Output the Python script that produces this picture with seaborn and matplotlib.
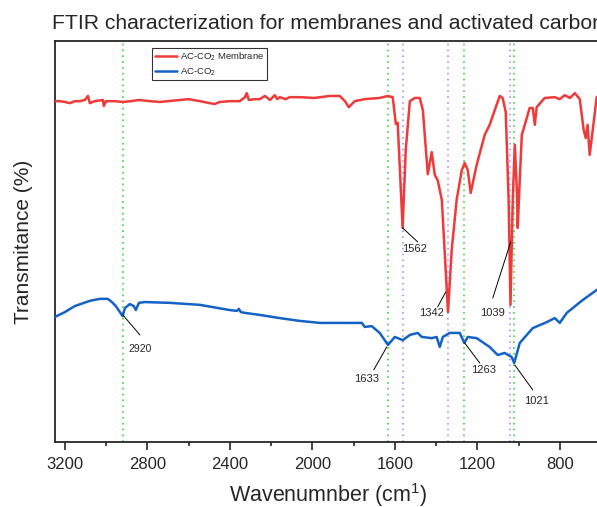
import numpy as np
import pandas as pd
import matplotlib
matplotlib.use("Agg")
import matplotlib.pyplot as plt
import seaborn as sns
from matplotlib.ticker import MultipleLocator

# --------------------------
# DATA
# --------------------------
membrane_wn = [3248, 3224, 3200, 3176, 3152, 3127, 3103, 3088, 3079, 3055, 3016, 3011,
               3001, 2958, 2920, 2880, 2840, 2788, 2740, 2700, 2642, 2600, 2545, 2497,
               2473, 2449, 2400, 2352, 2327, 2318, 2308, 2280, 2255, 2230, 2205, 2182,
               2170, 2158, 2130, 2109, 2061, 1990, 1915, 1867, 1842, 1823, 1794, 1746,
               1673, 1634, 1610, 1595, 1586, 1562, 1547, 1527, 1503, 1479, 1464, 1440,
               1421, 1406, 1392, 1372, 1342, 1324, 1300, 1275, 1261, 1246, 1232, 1203,
               1164, 1140, 1115, 1091, 1077, 1062, 1048, 1039, 1028, 1018, 1008, 1004,
               994, 984, 960, 946, 931, 921, 912, 873, 824, 800, 776, 750, 727, 703,
               684, 674, 665, 655, 640, 621, 606]
membrane_t = [85.0, 85.0, 84.8, 84.5, 85.0, 85.0, 85.3, 86.3, 84.5, 85.0, 85.3, 83.8,
              85.0, 85.0, 84.8, 85.0, 85.3, 85.0, 84.8, 85.0, 85.3, 85.5, 85.0, 84.5,
              84.3, 84.8, 85.0, 85.0, 86.0, 87.0, 85.3, 85.5, 85.5, 86.3, 85.3, 86.5,
              85.5, 86.0, 85.5, 86.0, 86.0, 85.8, 86.3, 86.3, 85.0, 83.5, 85.0, 85.5,
              85.8, 86.3, 86.0, 79.3, 79.6, 53.4, 72.8, 85.0, 85.8, 85.8, 82.8, 66.8,
              72.3, 66.6, 65.3, 60.4, 32.4, 47.9, 60.4, 67.8, 69.6, 67.8, 62.1, 69.1,
              76.6, 79.1, 82.8, 86.3, 85.8, 82.3, 60.4, 34.2, 60.4, 74.1, 62.8, 53.4,
              65.3, 76.6, 80.8, 83.3, 83.3, 79.1, 83.5, 85.8, 86.0, 85.5, 86.5, 85.8,
              87.0, 85.5, 77.8, 75.8, 79.1, 71.6, 77.8, 86.0, 86.5]

carbon_wn = [3248, 3200, 3152, 3079, 3030, 2992, 2972, 2953, 2920, 2909, 2885, 2866,
             2856, 2841, 2812, 2691, 2545, 2400, 2366, 2356, 2347, 2327, 2255, 2158,
             2061, 1964, 1760, 1746, 1712, 1673, 1633, 1600, 1561, 1527, 1489, 1469,
             1421, 1397, 1382, 1367, 1334, 1285, 1263, 1246, 1203, 1140, 1101, 1067,
             1033, 1021, 994, 931, 863, 824, 800, 766, 689, 621, 606]
carbon_t = [31.2, 32.4, 33.9, 35.2, 35.7, 35.7, 34.9, 33.9, 31.4, 33.4, 34.4, 33.9,
            32.9, 34.7, 34.9, 34.7, 34.2, 32.9, 32.7, 33.2, 32.4, 32.2, 31.7, 30.9,
            30.2, 29.7, 29.7, 28.7, 28.9, 27.2, 24.2, 26.2, 25.4, 26.7, 27.2, 26.2,
            25.9, 26.2, 23.7, 26.2, 27.2, 27.2, 24.7, 26.2, 25.9, 23.7, 21.7, 22.2,
            21.2, 19.7, 24.7, 28.4, 29.9, 30.9, 29.7, 32.2, 35.4, 37.9, 38.4]

series_names = ["AC-CO$_2$ Membrane", "AC-CO$_2$"]
series_colors = ["#EF3A3A", "#1462C6"]

green_marks = [2920, 1633, 1263, 1021]
purple_marks = [1562, 1342, 1039]

# label, peak (wn, T), leader end (wn, T), text centre (wn, T), size
peak_labels = [
    ("2920", (2919, 31.7), (2836, 26.7), (2836, 23.2), 7.5),
    ("1633", (1639, 23.7), (1702, 18.0), (1736, 15.7), 8),
    ("1562", (1562, 53.4), (1489, 49.9), (1503, 48.2), 8),
    ("1342", (1353, 37.4), (1392, 33.7), (1421, 32.2), 8),
    ("1263", (1261, 24.7), (1188, 19.7), (1169, 18.0), 8),
    ("1039", (1038, 49.9), (1125, 35.9), (1125, 32.2), 8),
    ("1021", (1018, 19.2), (931, 13.0), (912, 10.2), 8),
]

# --------------------------
# PLOT
# --------------------------
sns.set_style("ticks")
plt.rcParams["font.family"] = ["Liberation Sans", "DejaVu Sans"]
plt.rcParams["mathtext.fontset"] = "custom"
plt.rcParams["mathtext.rm"] = "Liberation Sans"
plt.rcParams["mathtext.it"] = "Liberation Sans"

df = pd.concat([
    pd.DataFrame({"wn": membrane_wn, "T": membrane_t, "sample": series_names[0]}),
    pd.DataFrame({"wn": carbon_wn, "T": carbon_t, "sample": series_names[1]}),
])

fig = plt.figure(figsize=(5.97, 5.07), dpi=100)
ax = fig.add_axes([0.0921, 0.1282, 0.9146, 0.7909])

for wn in green_marks:
    ax.axvline(wn, color="#33DD33", ls=(0, (1, 2.5)), lw=1.2, zorder=1)
for wn in purple_marks:
    ax.axvline(wn, color="#BB88FF", ls=(0, (1, 2.5)), lw=1.2, zorder=1)

sns.lineplot(data=df, x="wn", y="T", hue="sample", hue_order=series_names,
             palette=series_colors, linewidth=1.8, ax=ax, zorder=3)

for text, peak, end, pos, size in peak_labels:
    ax.annotate("", xy=peak, xytext=end,
                arrowprops=dict(arrowstyle="-", color="black", lw=0.7,
                                shrinkA=0, shrinkB=0))
    ax.text(pos[0], pos[1], text, ha="center", va="center", fontsize=size)

ax.set_xlim(3248, 600)
ax.set_ylim(0, 100)
ax.xaxis.set_major_locator(MultipleLocator(400))
ax.xaxis.set_minor_locator(MultipleLocator(200))
ax.tick_params(axis="x", which="major", length=6, width=1.2, labelsize=12, pad=5,
               direction="out")
ax.tick_params(axis="x", which="minor", length=3, width=1.2, direction="out")
ax.tick_params(axis="y", left=False, labelleft=False)
for side in ["left", "bottom", "top", "right"]:
    ax.spines[side].set_visible(True)
    ax.spines[side].set_linewidth(1.3)

ax.set_xlabel("Wavenumnber (cm$^{1}$)", fontsize=15.5, labelpad=6)
ax.set_ylabel("Transmitance (%)", fontsize=15, labelpad=16)
ax.set_title("FTIR characterization for membranes and activated carbon",
             fontsize=15.2, pad=9)

leg = ax.legend(loc="upper left", bbox_to_anchor=(0.178, 0.983), borderaxespad=0,
                fontsize=6.8, frameon=True, fancybox=False, handlelength=2.4,
                handletextpad=0.3, borderpad=0.25, labelspacing=0.25)
leg.get_frame().set_edgecolor("black")
leg.get_frame().set_linewidth(0.8)

fig.savefig("out.png", dpi=100)
